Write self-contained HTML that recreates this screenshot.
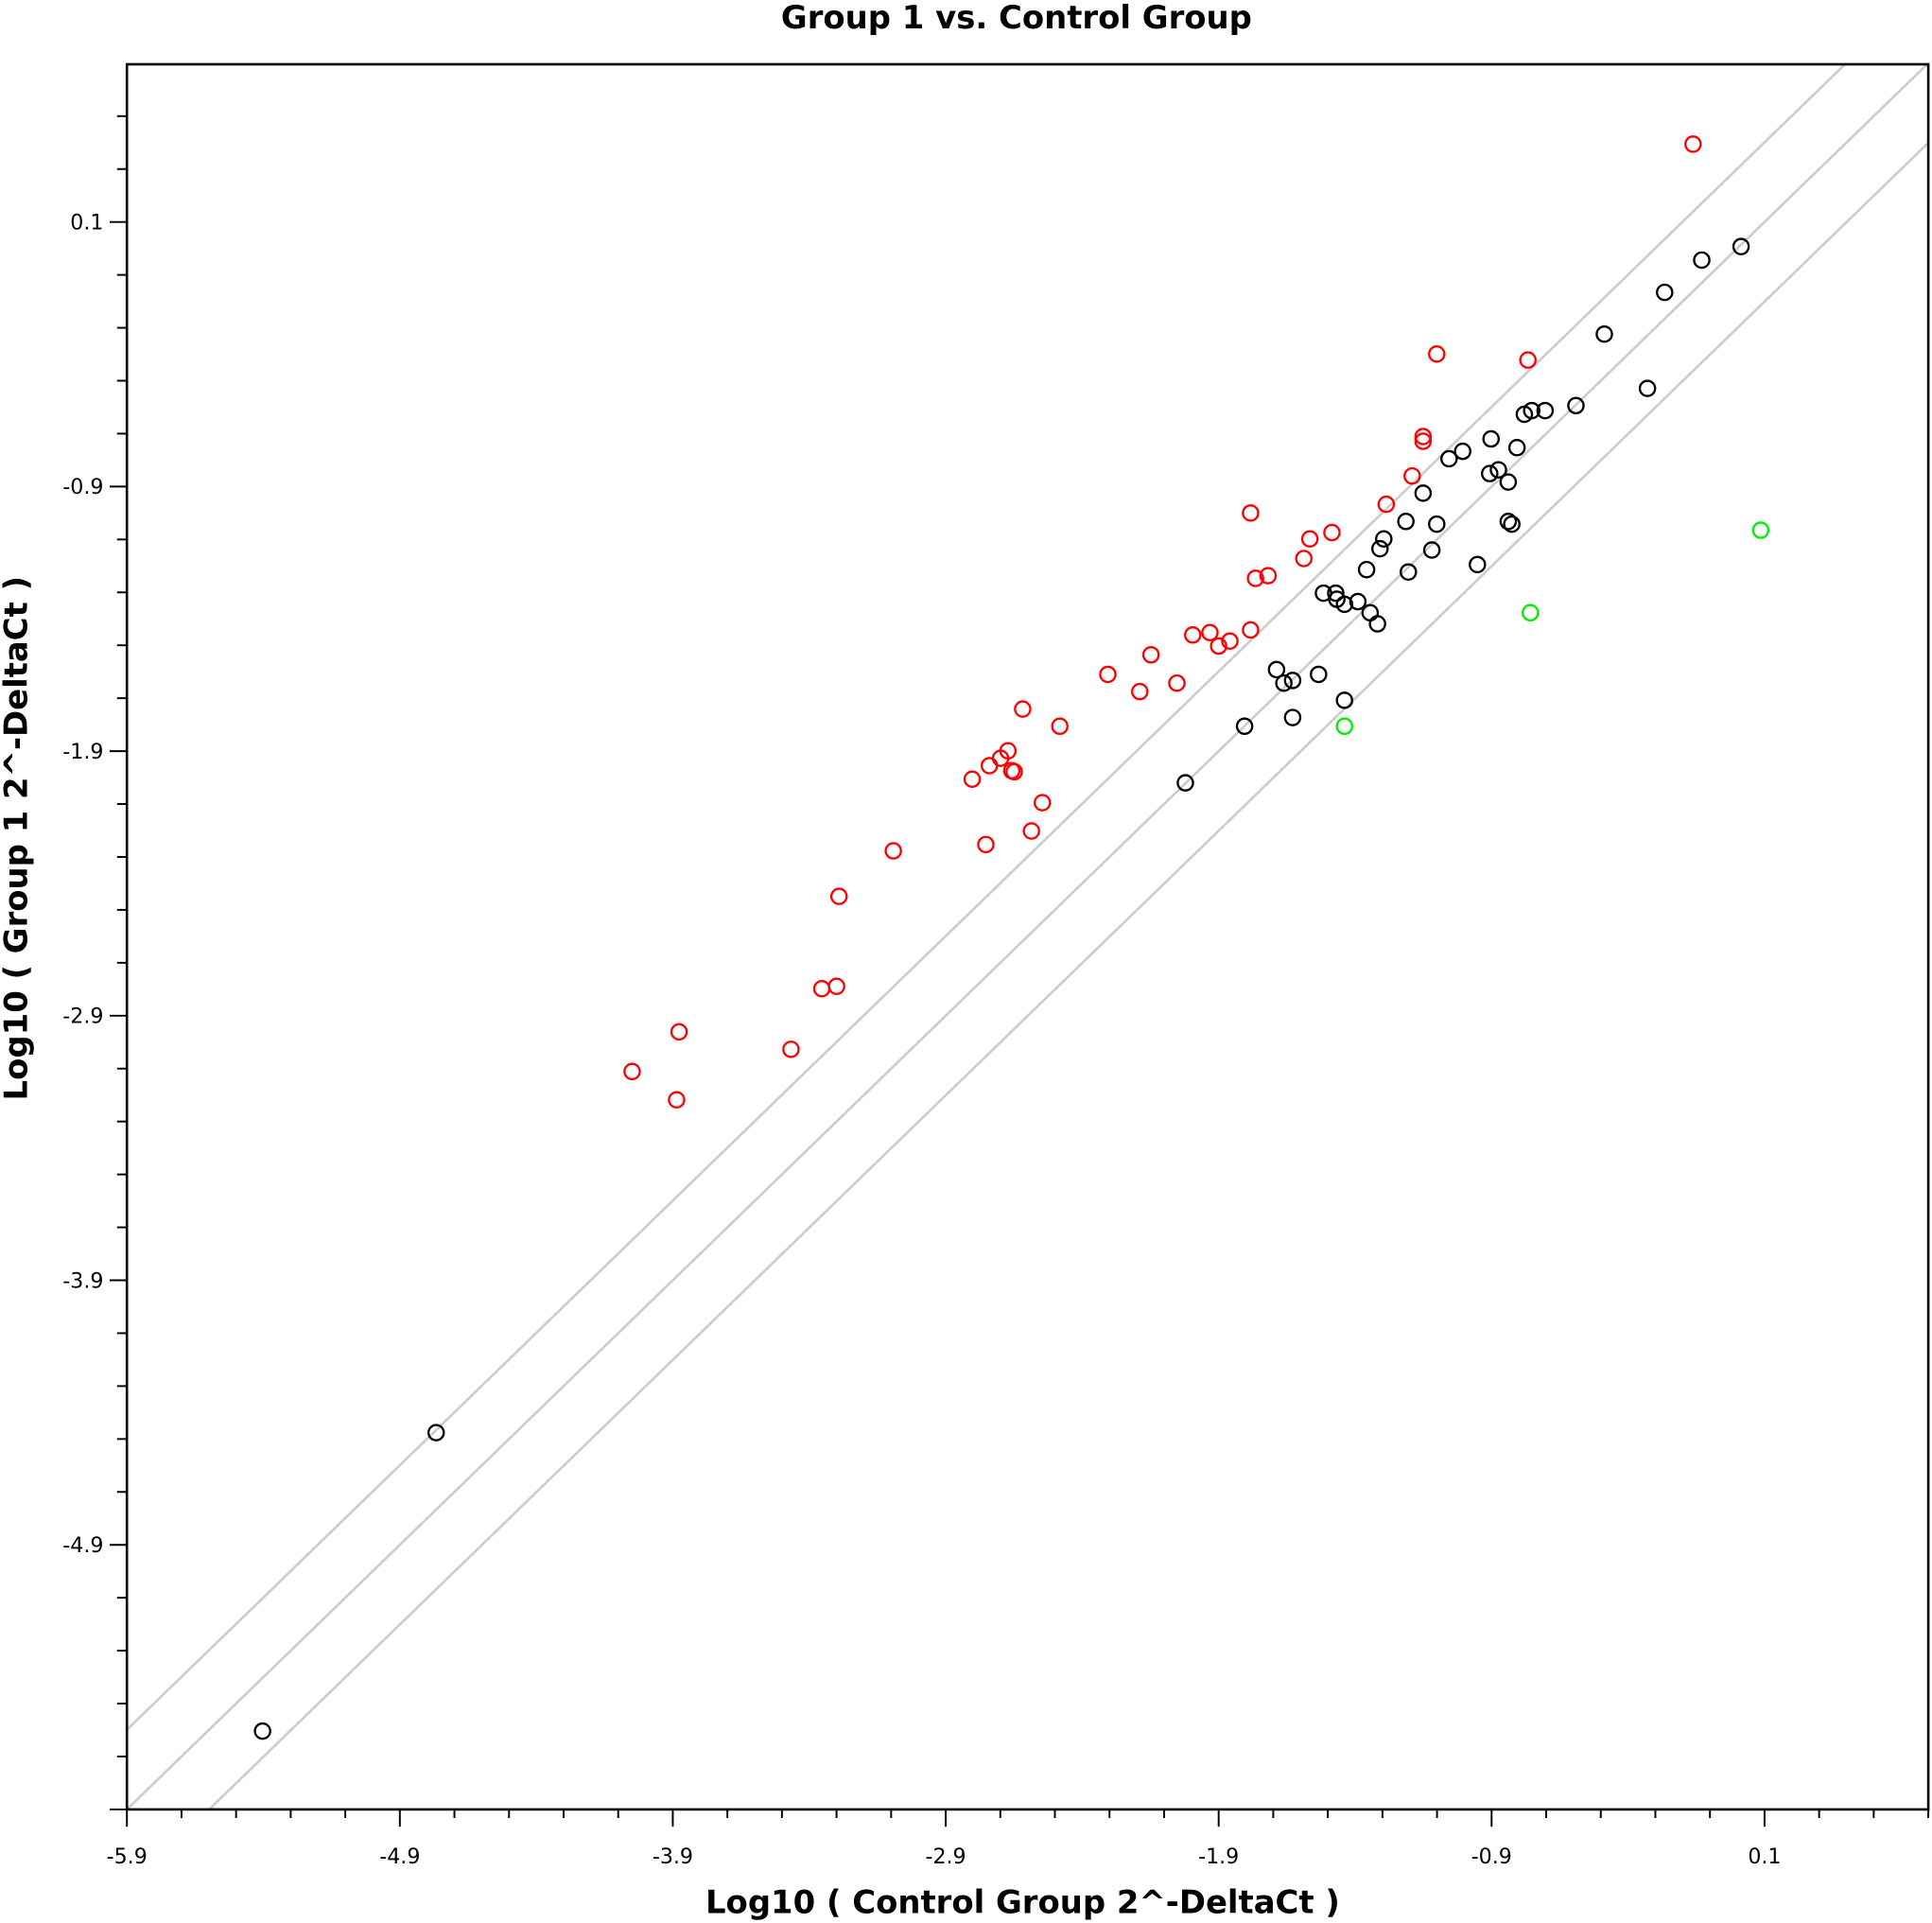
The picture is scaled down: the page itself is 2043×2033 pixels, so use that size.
<!DOCTYPE html>
<html><head><meta charset="utf-8"><style>
html,body{margin:0;padding:0;background:#fff;width:2043px;height:2033px;overflow:hidden;position:relative;}
svg{display:block;position:absolute;left:0;top:0;overflow:hidden;font-family:"DejaVu Sans","Liberation Sans",sans-serif;}
</style></head><body>
<svg id="chart" width="2043" height="2033" viewBox="0 0 1568 1560" xmlns="http://www.w3.org/2000/svg">
<rect width="1568" height="1560" fill="#fff"/>
<text x="825" y="23" text-anchor="middle" font-size="26" font-weight="bold">Group 1 vs. Control Group</text>
<text x="830" y="1552" text-anchor="middle" font-size="26" font-weight="bold">Log10 ( Control Group 2^-DeltaCt )</text>
<text transform="translate(22,680) rotate(-90)" text-anchor="middle" font-size="26" font-weight="bold">Log10 ( Group 1 2^-DeltaCt )</text>
<g id="plot"></g>
</svg>
<script>
const xTicks = [-5.9, -4.9, -3.9, -2.9, -1.9, -0.9, 0.1];
const yTicks = [0.1, -0.9, -1.9, -2.9, -3.9, -4.9];
const foldOffsets = [0.301, 0, -0.301];
const redX = [-0.162,-1.101,-0.767,-1.151,-1.151,-1.191,-1.286,-1.783,-1.485,-1.566,-1.588,-1.765,-1.719,-1.783,-1.995,-1.932,-1.900,-1.859,-2.148,-2.306,-2.189,-2.053,-2.618,-2.482,-2.672,-2.699,-2.740,-2.803,-2.658,-2.649,-2.546,-2.586,-3.092,-2.753,-3.291,-3.354,-3.300,-3.877,-3.467,-4.049,-3.886];
const redY = [0.394,-0.399,-0.422,-0.711,-0.729,-0.860,-0.967,-1.000,-1.074,-1.098,-1.172,-1.247,-1.237,-1.442,-1.461,-1.452,-1.503,-1.484,-1.536,-1.610,-1.675,-1.643,-1.741,-1.806,-1.899,-1.927,-1.955,-2.006,-1.974,-1.978,-2.095,-2.202,-2.277,-2.253,-2.449,-2.798,-2.789,-2.961,-3.027,-3.111,-3.218];
const greenX = [0.086,-0.758,-1.439];
const greenY = [-1.065,-1.377,-1.806];
const blackX = [0.014,-0.130,-0.266,-0.487,-0.329,-0.591,-0.704,-0.753,-0.780,-0.902,-0.807,-1.006,-1.056,-0.875,-0.907,-0.839,-1.151,-1.214,-1.101,-0.839,-0.826,-1.295,-1.309,-1.119,-0.952,-1.358,-1.205,-1.516,-1.471,-1.467,-1.439,-1.390,-1.345,-1.318,-1.688,-1.629,-1.661,-1.534,-1.439,-1.629,-1.805,-2.022,-4.767,-5.403];
const blackY = [0.007,-0.044,-0.166,-0.324,-0.529,-0.594,-0.613,-0.613,-0.627,-0.720,-0.753,-0.767,-0.795,-0.837,-0.851,-0.883,-0.925,-1.032,-1.042,-1.032,-1.042,-1.098,-1.135,-1.140,-1.195,-1.214,-1.223,-1.303,-1.303,-1.326,-1.345,-1.335,-1.377,-1.419,-1.592,-1.633,-1.643,-1.610,-1.708,-1.773,-1.806,-2.020,-4.476,-5.604];

const L=103,R=1565,T=52,B=1468;
const xMin=-5.9,xMax=0.7,yMin=-5.9,yMax=0.696;
function sx(v){return L+(v-xMin)/(xMax-xMin)*(R-L);}
function sy(v){return B-(v-yMin)/(yMax-yMin)*(B-T);}
const NS="http://www.w3.org/2000/svg";
const g=document.getElementById('plot');
function mk(tag,attrs,parent){const e=document.createElementNS(NS,tag);for(const k in attrs)e.setAttribute(k,attrs[k]);(parent||g).appendChild(e);return e;}

const lines=mk('g',{});


foldOffsets.forEach(d=>{
  const xa=Math.max(xMin,yMin-d), xb=Math.min(xMax,yMax-d);
  const l=mk('line',{x1:sx(xa),y1:sy(xa+d),x2:sx(xb),y2:sy(xb+d),stroke:'#cccccc','stroke-width':2},lines);
  
  
});

const fr=mk('rect',{x:L,y:T,width:R-L,height:B-T,fill:'none',stroke:'#000','stroke-width':2});



for(let i=0;i<=33;i++){
  const v=xMin+i*0.2; const x=sx(v); if(x>R+0.5)break;
  const major=(i%5===0);
  const t=mk('line',{x1:x,y1:B,x2:x,y2:B+(major?14:7),stroke:'#000','stroke-width':1.5});
  
  
}
xTicks.forEach(v=>{
  const t=mk('text',{x:sx(v),y:B+44,'text-anchor':'middle','font-size':17});
  t.textContent=v.toFixed(1);
  
  
});
for(let i=-40;i<=10;i++){
  const v=0.1+i*0.2; const y=sy(v); if(y<T-0.5||y>B+0.5)continue;
  const major=(((i%5)+5)%5===0);
  const t=mk('line',{x1:L,y1:y,x2:L-(major?14:8),y2:y,stroke:'#000','stroke-width':1.5});
  
  
}
yTicks.forEach(v=>{
  const t=mk('text',{x:L-19,y:sy(v)+6,'text-anchor':'end','font-size':17});
  t.textContent=v.toFixed(1);
  
  
});

function series(xs,ys,color,name){
  const sg=mk('g',{});
  
  
  xs.forEach((v,i)=>{
    const c=mk('circle',{cx:sx(v),cy:sy(ys[i]),r:6.2,fill:'none',stroke:color,'stroke-width':1.8},sg);
    
    
  });
}
series(blackX,blackY,'#000000','unchanged-genes');
series(redX,redY,'#ff0000','upregulated-genes');
series(greenX,greenY,'#00ee00','downregulated-genes');
</script>
</body></html>
